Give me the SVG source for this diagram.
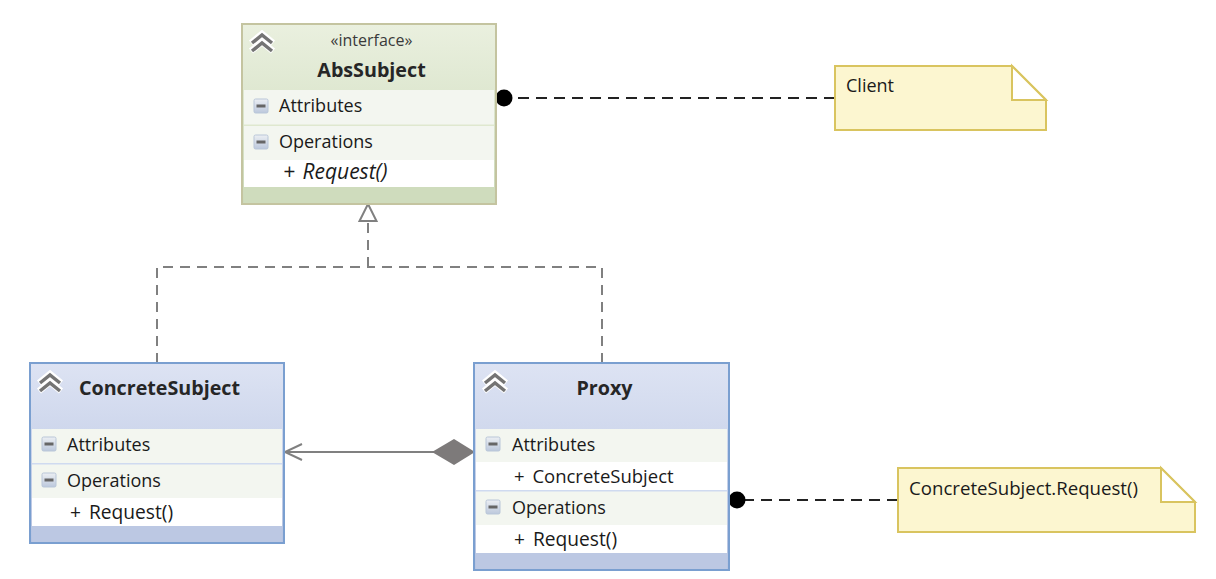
<svg xmlns="http://www.w3.org/2000/svg" width="1216" height="579" viewBox="0 0 1216 579">
<defs>
<linearGradient id="gh" x1="0" y1="0" x2="0" y2="1"><stop offset="0" stop-color="#eaf0df"/><stop offset="1" stop-color="#ccdaba"/></linearGradient>
<linearGradient id="bh" x1="0" y1="0" x2="0" y2="1"><stop offset="0" stop-color="#dde3f3"/><stop offset="1" stop-color="#b6c3e1"/></linearGradient>
<linearGradient id="mn" x1="0" y1="0" x2="0" y2="1"><stop offset="0" stop-color="#eceff3"/><stop offset="1" stop-color="#bcc8dc"/></linearGradient>
<g id="chev"><path d="M-11 1L0-8L11 1M-11 9L0 0L11 9" fill="none" stroke="#fff" stroke-width="6.500"/><path d="M-10 1L0-7L10 1M-10 9L0 1L10 9" fill="none" stroke="#747474" stroke-width="3.500"/></g>
<g id="minus"><rect x="-7" y="-7" width="14" height="14" rx="1.500" fill="url(#mn)" stroke="#b9c6d8"/><rect x="-4.500" y="-1.500" width="9" height="3" fill="#666"/></g>
</defs>
<style>
text{font-family:"Open Sans","Noto Sans","Liberation Sans",sans-serif;font-size:18px;fill:#1a1a1a}
.t{font-weight:700;text-anchor:middle;font-size:19.700px;fill:#262626}
.i{font-style:italic;font-size:21px;word-spacing:2px}
.m{font-size:18.500px;word-spacing:3px}
.r{font-size:19.200px;word-spacing:3px}
.s{font-size:16px;text-anchor:middle;fill:#3a3a3a}
.sec{fill:#f3f6f0}
.w{fill:#fff}
.gf{fill:#cfdcbd}
.bf{fill:#bcc8e3}
.note{fill:#fcf6d0;stroke:#d9c45f;stroke-width:2}
.fold{fill:#fff;stroke:#d9c45f;stroke-width:2}
.dash{fill:none;stroke:#222;stroke-width:2;stroke-dasharray:11 7}
.gd{fill:none;stroke:#808080;stroke-width:2;stroke-dasharray:10 7}
</style>
<g id="connectors">
<path class="gd" d="M368 267V221"/>
<path class="gd" d="M157 363V267H368"/>
<path class="gd" d="M602 363V267H368"/>
<path d="M368 204L376.500 221H359.500Z" fill="#fff" stroke="#808080" stroke-width="2"/>
<path d="M286 452H434" fill="none" stroke="#808080" stroke-width="2"/>
<path d="M302 444L285 452L302 460" fill="none" stroke="#808080" stroke-width="2"/>
<path d="M432 452L454 439L475 452L454 465Z" fill="#7d7a7a"/>
<path class="dash" d="M835 98H512"/>
<circle cx="504" cy="98" r="8.500" fill="#000"/>
<path class="dash" d="M898 500H745"/>
<circle cx="737" cy="500" r="8.500" fill="#000"/>
</g>
<g id="AbsSubject">
<rect x="242" y="24" width="254" height="180" fill="url(#gh)"/>
<rect class="sec" x="244" y="90" width="250" height="70"/>
<rect x="244" y="124.500" width="250" height="1.500" fill="#dfe8cf"/>
<rect class="w" x="244" y="160" width="250" height="27"/>
<rect class="gf" x="244" y="187" width="250" height="16"/>
<rect x="242" y="24" width="254" height="180" fill="none" stroke="#c4c4a0" stroke-width="2"/>
<use href="#chev" x="262" y="42"/>
<use href="#minus" x="261" y="106"/>
<use href="#minus" x="261" y="142"/>
<text class="s" x="371.500" y="46">«interface»</text>
<text class="t" x="371.500" y="77">AbsSubject</text>
<text x="279" y="112">Attributes</text>
<text x="279" y="148">Operations</text>
<text class="i" x="283" y="179">+ Request()</text>
</g>
<g id="ConcreteSubject">
<rect x="30" y="363" width="254" height="180" fill="url(#bh)"/>
<rect class="sec" x="32" y="429" width="250" height="69"/>
<rect x="32" y="463" width="250" height="1.500" fill="#cfdaf0"/>
<rect class="w" x="32" y="498" width="250" height="28"/>
<rect class="bf" x="32" y="526" width="250" height="16"/>
<rect x="30" y="363" width="254" height="180" fill="none" stroke="#7a9fd0" stroke-width="2"/>
<use href="#chev" x="50" y="382"/>
<use href="#minus" x="49" y="444"/>
<use href="#minus" x="49" y="480"/>
<text class="t" x="159.500" y="395">ConcreteSubject</text>
<text x="67" y="451">Attributes</text>
<text x="67" y="487">Operations</text>
<text class="r" x="70" y="519">+ Request()</text>
</g>
<g id="Proxy">
<rect x="474" y="363" width="255" height="207" fill="url(#bh)"/>
<rect class="sec" x="476" y="429" width="251" height="124"/>
<rect class="w" x="476" y="462" width="251" height="28"/>
<rect x="476" y="490" width="251" height="1.500" fill="#cfdaf0"/>
<rect class="w" x="476" y="525" width="251" height="28"/>
<rect class="bf" x="476" y="553" width="251" height="16"/>
<rect x="474" y="363" width="255" height="207" fill="none" stroke="#7a9fd0" stroke-width="2"/>
<use href="#chev" x="495" y="382"/>
<use href="#minus" x="493" y="444"/>
<use href="#minus" x="493" y="507"/>
<text class="t" x="604.500" y="395">Proxy</text>
<text x="512" y="451">Attributes</text>
<text class="m" x="514" y="483">+ ConcreteSubject</text>
<text x="512" y="514">Operations</text>
<text class="r" x="514" y="546">+ Request()</text>
</g>
<g id="ClientNote">
<path class="note" d="M835 66H1012L1046 100V130H835Z"/>
<path class="fold" d="M1012 66V100H1046Z"/>
<text x="846" y="92">Client</text>
</g>
<g id="RequestNote">
<path class="note" d="M898 468H1161L1195 502V532H898Z"/>
<path class="fold" d="M1161 468V502H1195Z"/>
<text x="909" y="495" style="font-size:18.650px">ConcreteSubject.Request()</text>
</g>
</svg>
